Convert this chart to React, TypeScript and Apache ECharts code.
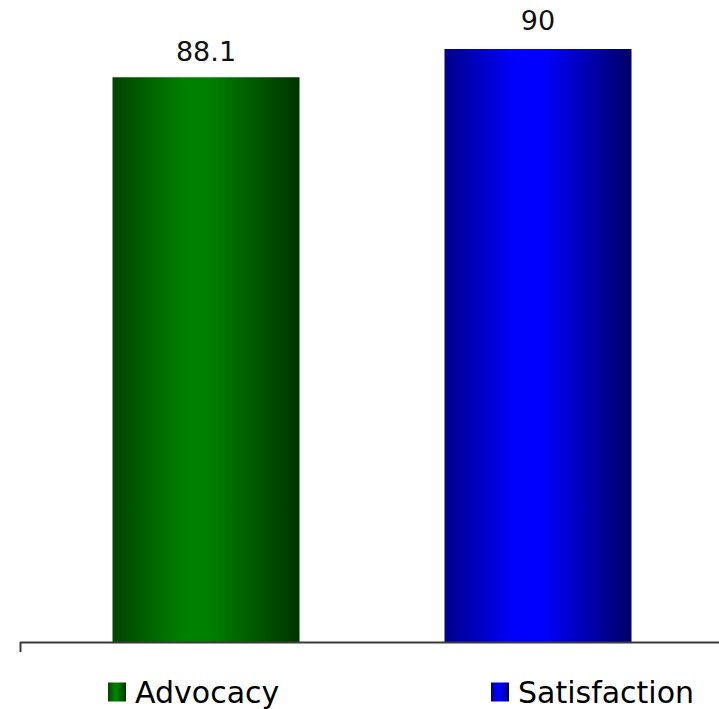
import React, { useEffect, useRef } from "react";
import * as echarts from "echarts";

const categories = ["Advocacy", "Satisfaction"];
const advocacyValues = [88.1, "-"];
const satisfactionValues = ["-", 90];
const seriesNames = ["Advocacy", "Satisfaction"];

const greenGrad = new echarts.graphic.LinearGradient(0, 0, 1, 0, [
  { offset: 0, color: "#004400" },
  { offset: 0.38, color: "#008000" },
  { offset: 0.52, color: "#008000" },
  { offset: 1, color: "#003300" },
]);
const blueGrad = new echarts.graphic.LinearGradient(0, 0, 1, 0, [
  { offset: 0, color: "#000088" },
  { offset: 0.38, color: "#0000ff" },
  { offset: 0.52, color: "#0000ff" },
  { offset: 1, color: "#000066" },
]);

export default function App() {
  const ref = useRef<HTMLDivElement>(null);
  useEffect(() => {
    if (!ref.current) return;
    const chart = echarts.init(ref.current, null, { renderer: "svg" });
    const font = "'DejaVu Sans', Verdana, sans-serif";
    const legendText = { fontFamily: font, fontSize: 30, color: "#000", lineHeight: 30, padding: [0, 0, 0, 4] };
    chart.setOption({
      animation: false,
      backgroundColor: "#fff",
      grid: { left: 40, right: 15, top: 49, bottom: 67 },
      xAxis: {
        type: "category",
        data: categories,
        axisLine: { show: false },
        axisTick: { show: false },
        axisLabel: { show: false },
      },
      yAxis: {
        type: "value",
        min: 50,
        max: 90,
        show: false,
        splitLine: { show: false },
      },
      legend: [
        {
          data: [seriesNames[0]],
          left: 103,
          top: 672,
          icon: "rect",
          itemWidth: 18,
          itemHeight: 19,
          textStyle: legendText,
          selectedMode: false,
        },
        {
          data: [seriesNames[1]],
          left: 486,
          top: 672,
          icon: "rect",
          itemWidth: 18,
          itemHeight: 19,
          textStyle: legendText,
          selectedMode: false,
        },
      ],
      series: [
        {
          name: seriesNames[0],
          type: "bar",
          stack: "s",
          data: advocacyValues,
          barWidth: 187,
          itemStyle: { color: greenGrad },
          label: {
            show: true,
            position: "top",
            distance: 12,
            fontFamily: font,
            fontSize: 27,
            color: "#111",
          },
        },
        {
          name: seriesNames[1],
          type: "bar",
          stack: "s",
          data: satisfactionValues,
          barWidth: 187,
          itemStyle: { color: blueGrad },
          label: {
            show: true,
            position: "top",
            distance: 15,
            fontFamily: font,
            fontSize: 27,
            color: "#111",
          },
        },
      ],
      graphic: [
        {
          type: "line",
          shape: { x1: 20, y1: 642.5, x2: 719, y2: 642.5 },
          style: { stroke: "#3a3a3a", lineWidth: 2 },
          z: 10,
        },
        {
          type: "line",
          shape: { x1: 20.5, y1: 642, x2: 20.5, y2: 652 },
          style: { stroke: "#3a3a3a", lineWidth: 2 },
          z: 10,
        },
      ],
    });
    return () => chart.dispose();
  }, []);
  return (
    <div
      ref={ref}
      style={{ position: "fixed", left: 0, top: 0, width: 719, height: 709 }}
    />
  );
}
